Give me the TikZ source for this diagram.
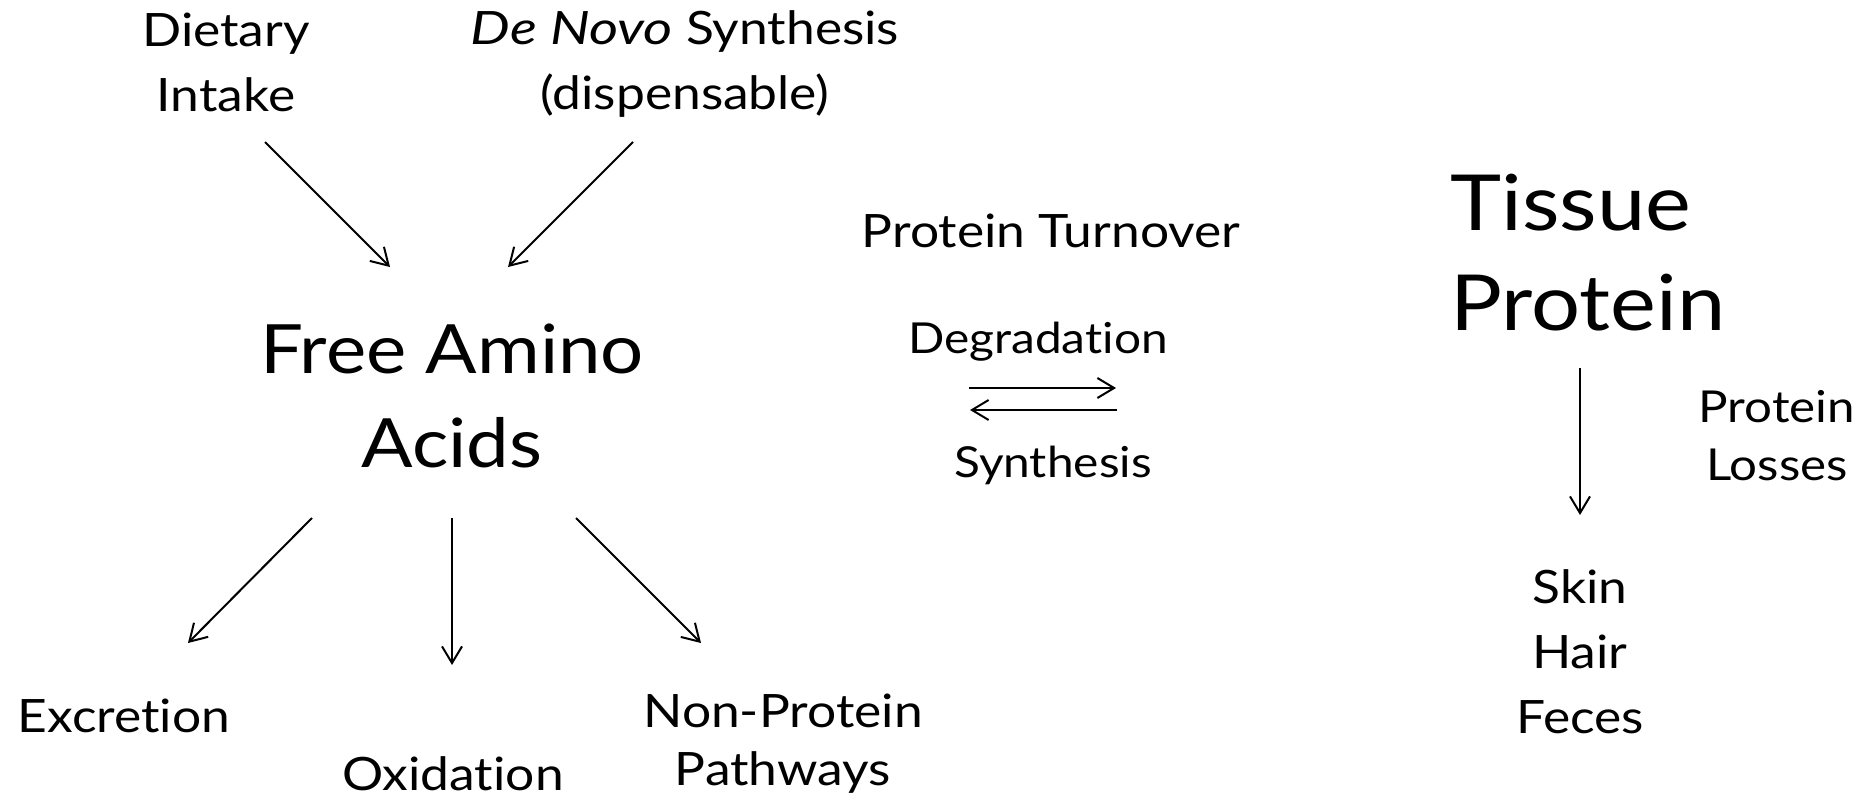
\documentclass[tikz,border=0pt]{standalone}
\usepackage{fontspec}
\setmainfont{Lato}[Ligatures={NoCommon,NoContextual},FakeStretch=1.12,ItalicFeatures={FakeStretch=1.22}]
\usetikzlibrary{arrows.meta}
\tikzset{
  lbl/.style={font=\fontsize{34.5}{48.5}\selectfont, align=center, inner sep=0pt, anchor=base},
  sml/.style={font=\fontsize{32}{43.5}\selectfont, align=center, inner sep=0pt, anchor=base},
  bigl/.style={font=\fontsize{51}{70}\selectfont, align=center, inner sep=0pt, anchor=base},
  hugel/.style={font=\fontsize{58}{75}\selectfont, align=left, inner sep=0pt, anchor=base west},
  arr/.style={line width=1.5pt, -{Straight Barb[length=12.5pt,width=15pt]}}
}
\begin{document}
\begin{tikzpicture}[x=0.75pt,y=-0.75pt]
\useasboundingbox (0,0) rectangle (1863,799);
% text nodes (base anchor = last line's baseline)
\node[lbl] (diet) at (226,111) {Dietary\\Intake};
\node[lbl] (denovo) at (685,109) {\textit{De Novo} Synthesis\\(dispensable)};
\node[bigl] (faa) at (452,467) {Free Amino\\Acids};
\node[lbl] (turn) at (1051,247) {Protein Turnover};
\node[sml] (degr) at (1038,353) {Degradation};
\node[sml] (synth) at (1053,477) {Synthesis};
\node[hugel] (tissue) at (1450,330) {Tissue\\Protein};
\node[sml, font=\fontsize{33}{43.5}\selectfont] (losses) at (1777,480) {Protein\\Losses};
\node[lbl] (shf) at (1580,733) {Skin\\Hair\\Feces};
\node[lbl] (excr) at (124,732) {Excretion};
\node[lbl] (oxid) at (453,790) {Oxidation};
\node[lbl, font=\fontsize{34.5}{43.5}\selectfont] (nonp) at (783,785) {Non-Protein\\Pathways};
% connector ends
\coordinate (dietS) at (265,142);
\coordinate (dietE) at (390,267);
\coordinate (novoS) at (633,142);
\coordinate (novoE) at (508,267);
\coordinate (excS) at (312,518);
\coordinate (excE) at (188,643);
\coordinate (oxS) at (452,518);
\coordinate (oxE) at (452,665);
\coordinate (npS) at (576,518);
\coordinate (npE) at (701,643);
\coordinate (degS) at (969,388);
\coordinate (degE) at (1116,388);
\coordinate (synS) at (1117,410);
\coordinate (synE) at (970,410);
\coordinate (losS) at (1580,368);
\coordinate (losE) at (1580,515);
% connectors
\draw[arr] (dietS) -- (dietE);
\draw[arr] (novoS) -- (novoE);
\draw[arr] (excS) -- (excE);
\draw[arr] (oxS) -- (oxE);
\draw[arr] (npS) -- (npE);
\draw[arr] (degS) -- (degE);
\draw[arr] (synS) -- (synE);
\draw[arr] (losS) -- (losE);
\end{tikzpicture}
\end{document}
